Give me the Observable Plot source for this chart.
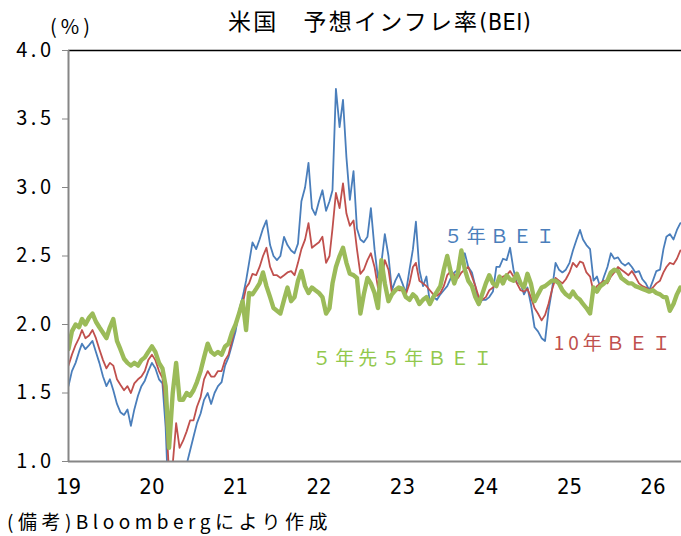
<!DOCTYPE html>
<html><head><meta charset="utf-8">
<script src="https://cdn.jsdelivr.net/npm/d3@7"></script>
<script src="https://cdn.jsdelivr.net/npm/@observablehq/plot@0.6"></script>
<style>
html,body{margin:0;padding:0;background:#fff;}
#wrap{position:relative;width:681px;height:536px;overflow:hidden;font-family:"Noto Sans CJK JP",sans-serif;color:#000;}
#title{position:absolute;top:5px;left:228px;font-size:23px;letter-spacing:2.2px;white-space:nowrap;line-height:30px;}
#title .lat{font-family:"Liberation Sans Narrow","DejaVu Sans";font-stretch:condensed;letter-spacing:0.5px;}
#unit{position:absolute;top:12px;left:50px;font-size:20px;letter-spacing:4px;line-height:28px;}
#caption{position:absolute;top:507px;left:7px;font-size:19px;letter-spacing:4.5px;white-space:nowrap;line-height:28px;}
#chart{position:absolute;top:0;left:0;}
g[aria-label="y-axis tick label"] text{letter-spacing:3.5px;}
g[aria-label="x-axis tick label"] text{font-family:"Liberation Sans Narrow","DejaVu Sans";font-stretch:condensed;}
g[aria-label="text"] text{letter-spacing:4px;}
</style>
</head><body>
<div id="wrap">
  <div id="chart"></div>
  <div id="title">米国　予想インフレ率<span class="lat">(BEI)</span></div>
  <div id="unit">(%)</div>
  <div id="caption">(備考)Bloombergにより作成</div>
</div>
<script>
// semi-monthly observations (1st and 16th of each month) from 2019-01-01 to 2026-05-01
const startYear = 2019;
const nObs = 177;

// 5年BEI
const bei5 = [
  1.55,1.66, 1.72,1.80, 1.86,1.82, 1.85,1.88, 1.80,1.72, 1.62,1.55, 1.60,1.52, 1.42,1.36, 1.34,1.38, 1.26,1.38, 1.48,1.55, 1.59,1.66, // 2019
  1.72,1.68, 1.60,1.57, 1.25,0.60, 0.55,0.62, 0.80,0.90, 0.98,1.08, 1.18,1.28, 1.35,1.45, 1.50,1.42, 1.50,1.55, 1.58,1.70, 1.76,1.85, // 2020
  1.95,2.10, 2.20,2.32, 2.45,2.60, 2.55,2.62, 2.70,2.76, 2.58,2.50, 2.47,2.50, 2.64,2.58, 2.54,2.52, 2.59,2.90, 3.00,3.18, 2.85,2.80, // 2021
  2.90,2.98, 2.83,2.90, 2.98,3.72, 3.44,3.64, 3.22,2.91, 3.12,2.70, 2.62,2.60, 2.64,2.85, 2.55,2.34, 2.45,2.66, 2.50,2.25, 2.32,2.37, // 2022
  2.30,2.23, 2.40,2.55, 2.75,2.40, 2.28,2.35, 2.16,2.20, 2.18,2.22, 2.25,2.28, 2.34,2.38, 2.40,2.45, 2.52,2.42, 2.38,2.28, 2.14,2.18, // 2023
  2.18,2.20, 2.24,2.42, 2.42,2.48, 2.47,2.56, 2.40,2.30, 2.30,2.22, 2.27,2.15, 1.98,1.95, 1.90,1.88, 2.10,2.25, 2.45,2.40, 2.38,2.40, // 2024
  2.45,2.54, 2.62,2.69, 2.62,2.58, 2.55,2.32, 2.35,2.27, 2.35,2.42, 2.52,2.48, 2.49,2.45, 2.43,2.45, 2.42,2.38, 2.39,2.33, 2.30,2.25, // 2025
  2.32,2.39, 2.40,2.55, 2.64,2.66, 2.62,2.69, 2.74 // 2026
];

// 10年BEI
const bei10 = [
  1.70,1.78, 1.85,1.90, 1.96,1.90, 1.92,1.96, 1.90,1.82, 1.74,1.68, 1.72,1.70, 1.60,1.56, 1.52,1.55, 1.50,1.57, 1.60,1.62, 1.66,1.74, // 2019
  1.78,1.74, 1.66,1.61, 1.40,0.90, 0.98,1.28, 1.10,1.15, 1.22,1.30, 1.30,1.40, 1.47,1.60, 1.66,1.62, 1.62,1.66, 1.66,1.74, 1.78,1.88, // 2020
  2.00,2.08, 2.15,2.27, 2.30,2.37, 2.36,2.42, 2.50,2.56, 2.42,2.36, 2.36,2.34, 2.36,2.38, 2.39,2.36, 2.45,2.55, 2.62,2.74, 2.56,2.58, // 2021
  2.60,2.64, 2.45,2.50, 2.70,2.96, 2.85,3.03, 2.81,2.72, 2.76,2.55, 2.37,2.40, 2.47,2.52, 2.42,2.27, 2.32,2.47, 2.40,2.23, 2.26,2.25, // 2022
  2.25,2.22, 2.30,2.42, 2.45,2.32, 2.30,2.28, 2.25,2.22, 2.21,2.23, 2.28,2.36, 2.39,2.36, 2.34,2.38, 2.40,2.42, 2.35,2.28, 2.20,2.18, // 2023
  2.20,2.25, 2.27,2.30, 2.32,2.35, 2.36,2.39, 2.35,2.30, 2.25,2.24, 2.26,2.20, 2.12,2.08, 2.03,2.07, 2.15,2.25, 2.34,2.32, 2.30,2.33, // 2024
  2.38,2.45, 2.42,2.46, 2.45,2.38, 2.35,2.24, 2.28,2.30, 2.32,2.30, 2.35,2.38, 2.42,2.40, 2.38,2.36, 2.39,2.35, 2.30,2.28, 2.27,2.25, // 2025
  2.27,2.30, 2.32,2.38, 2.42,2.45, 2.44,2.48, 2.54 // 2026
];

// 5年先5年BEI
const fwd5y5y = [
  1.82,1.95, 2.00,1.98, 2.04,2.00, 2.05,2.08, 2.02,1.98, 1.94,1.90, 1.98,2.04, 1.88,1.82, 1.75,1.72, 1.70,1.72, 1.70,1.74, 1.76,1.80, // 2019
  1.84,1.80, 1.72,1.68, 1.55,1.10, 1.50,1.72, 1.45,1.45, 1.50,1.48, 1.52,1.58, 1.66,1.76, 1.86,1.80, 1.78,1.80, 1.78,1.84, 1.86,1.94, // 2020
  2.00,2.08, 2.17,1.96, 2.23,2.22, 2.26,2.30, 2.38,2.28, 2.20,2.12, 2.10,2.08, 2.18,2.27, 2.17,2.20, 2.32,2.39, 2.28,2.23, 2.27,2.25, // 2021
  2.23,2.20, 2.08,2.12, 2.30,2.42, 2.50,2.56, 2.45,2.37, 2.36,2.34, 2.08,2.22, 2.34,2.30, 2.23,2.12, 2.47,2.30, 2.17,2.22, 2.25,2.27, // 2022
  2.26,2.20, 2.18,2.22, 2.20,2.15, 2.18,2.20, 2.15,2.20, 2.24,2.28, 2.40,2.50, 2.38,2.30, 2.38,2.54, 2.40,2.32, 2.28,2.20, 2.15,2.22, // 2023
  2.30,2.36, 2.30,2.28, 2.35,2.30, 2.36,2.33, 2.32,2.37, 2.30,2.27, 2.37,2.30, 2.17,2.22, 2.27,2.28, 2.30,2.32, 2.32,2.30, 2.25,2.22, // 2024
  2.20,2.24, 2.20,2.18, 2.15,2.12, 2.08,2.27, 2.24,2.28, 2.30,2.32, 2.38,2.40, 2.39,2.34, 2.32,2.30, 2.30,2.28, 2.27,2.26, 2.25,2.24, // 2025
  2.25,2.23, 2.22,2.20, 2.20,2.10, 2.15,2.22, 2.27 // 2026
];

const yearTicks = [2019, 2020, 2021, 2022, 2023, 2024, 2025, 2026];
const yearLabels = ["19", "20", "21", "22", "23", "24", "25", "26"];
const yTicks = [1.0, 1.5, 2.0, 2.5, 3.0, 3.5, 4.0];

const seriesNames = ["５年ＢＥＩ", "10年ＢＥＩ", "５年先５年ＢＥＩ"];
const seriesColors = ["#4A7EBB", "#C0504D", "#9BBB59"];
const labelColors = ["#4A7EBB", "#C0504D", "#92C84C"];
const labelDates = ["2024-03-08", "2025-07-16", "2023-01-09"];
const labelValues = [2.64, 1.86, 1.75];

const dates = d3.range(nObs).map(i =>
  new Date(Date.UTC(startYear + Math.floor(i / 24), Math.floor((i % 24) / 2), i % 2 ? 16 : 1)));
const toRows = vals => vals.map((v, i) => ({date: dates[i], value: v}));
const labels = seriesNames.map((s, i) => ({text: s, date: new Date(labelDates[i]), value: labelValues[i], color: labelColors[i]}));
const tickDates = yearTicks.map(y => new Date(Date.UTC(y, 0, 1)));
const x0 = new Date(Date.UTC(2019, 0, 1));

const chart = Plot.plot({
  width: 681, height: 536,
  marginTop: 50, marginBottom: 75, marginLeft: 68, marginRight: 0,
  style: {fontFamily: '"Noto Sans CJK JP", sans-serif', background: "white", color: "black"},
  x: {type: "utc", domain: [x0, new Date(Date.UTC(2026, 4, 6))], label: null},
  y: {domain: [1, 4], label: null},
  marks: [
    Plot.ruleY([4], {stroke: "#000", strokeWidth: 1.3}),
    Plot.lineY(toRows(bei5), {x: "date", y: "value", stroke: seriesColors[0], strokeWidth: 1.8, clip: true}),
    Plot.lineY(toRows(bei10), {x: "date", y: "value", stroke: seriesColors[1], strokeWidth: 1.8, clip: true}),
    Plot.lineY(toRows(fwd5y5y), {x: "date", y: "value", stroke: seriesColors[2], strokeWidth: 4.4, clip: true}),
    Plot.ruleX([x0], {stroke: "#868686", strokeWidth: 2}),
    Plot.ruleY([1], {stroke: "#868686", strokeWidth: 2}),
    Plot.axisY({ticks: yTicks, tickSize: 6, tickPadding: 8, stroke: "#868686", label: null,
      tickFormat: d3.format(".1f"), fontSize: 20}),
    Plot.axisX({ticks: tickDates, tickSize: 0, tickPadding: 17, fontSize: 22, label: null,
      tickFormat: d => yearLabels[yearTicks.indexOf(d.getUTCFullYear())]}),
    Plot.text(labels, {x: "date", y: "value", text: "text", fill: "color", fontSize: 19})
  ]
});
document.getElementById("chart").appendChild(chart);
</script>
</body></html>
